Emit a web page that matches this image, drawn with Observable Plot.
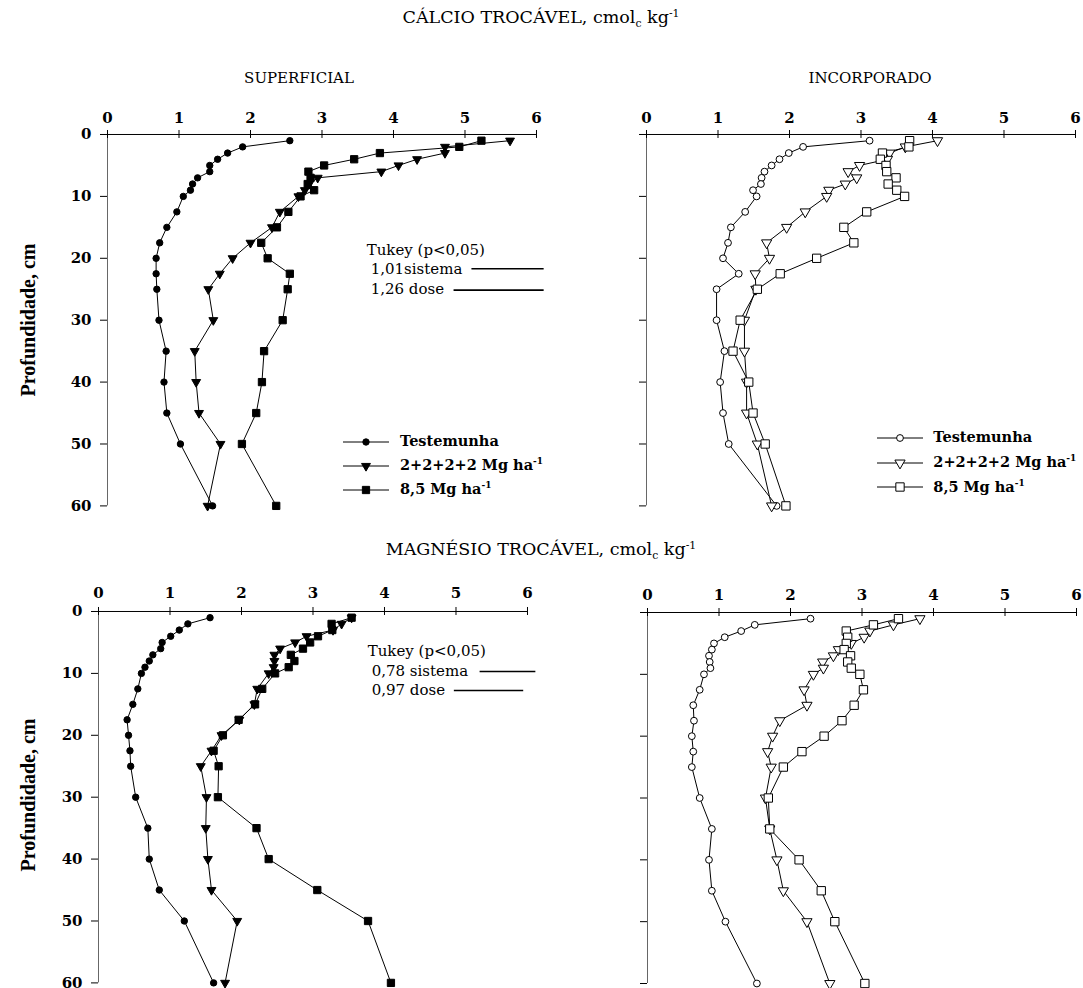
<!DOCTYPE html>
<html>
<head>
<meta charset="utf-8">
<script src="https://cdn.jsdelivr.net/npm/d3@7"></script>
<script src="https://cdn.jsdelivr.net/npm/@observablehq/plot@0.6"></script>
<style>
  body { margin: 0; background: #fff; }
  #fig { position: relative; width: 1083px; height: 988px; overflow: hidden; background: #fff;
         font-family: "DejaVu Serif", serif; color: #000; }
  .abs { position: absolute; white-space: nowrap; line-height: 1; }
  .ctr { transform: translate(-50%, -50%); }
  .vmid { transform: translateY(-50%); }
  .sub { font-size: 0.62em; vertical-align: -0.35em; line-height: 0; }
  .sup { font-size: 0.62em; vertical-align: 0.6em; line-height: 0; }
  .ylab { font-family: "Liberation Serif", serif; font-weight: bold; font-size: 20px;
          transform: translate(-50%, -50%) rotate(-90deg); }
  .leg { font-weight: bold; font-size: 14.5px; }
  .tk { font-size: 15px; }
</style>
</head>
<body>
<div id="fig"></div>
<script>
// Sampling depths (cm) shared by every profile
const depths = [1, 2, 3, 4, 5, 6, 7, 8, 9, 10, 12.5, 15, 17.5, 20, 22.5, 25, 30, 35, 40, 45, 50, 60];
const treatments = ["Testemunha", "2+2+2+2 Mg ha", "8,5 Mg ha"];
const xTicks = [0, 1, 2, 3, 4, 5, 6];
const yTicks = [0, 10, 20, 30, 40, 50, 60];

// Cálcio trocável — superficial
const caSupTest = [2.55, 1.89, 1.68, 1.54, 1.43, 1.43, 1.26, 1.19, 1.16, 1.06, 0.97, 0.83, 0.73, 0.68, 0.68, 0.69, 0.72, 0.82, 0.79, 0.83, 1.02, 1.47];
const caSupParc = [5.63, 4.72, 4.72, 4.33, 4.07, 3.83, 2.94, 2.82, 2.76, 2.67, 2.41, 2.30, 2.00, 1.75, 1.57, 1.41, 1.48, 1.22, 1.24, 1.28, 1.58, 1.40];
const caSupDose = [5.23, 4.92, 3.81, 3.45, 3.03, 2.81, 2.84, 2.80, 2.89, 2.70, 2.53, 2.37, 2.15, 2.24, 2.55, 2.52, 2.45, 2.19, 2.16, 2.08, 1.88, 2.36];

// Cálcio trocável — incorporado
const caIncTest = [3.12, 2.19, 1.99, 1.86, 1.75, 1.65, 1.61, 1.60, 1.49, 1.54, 1.38, 1.18, 1.14, 1.07, 1.29, 0.98, 0.98, 1.09, 1.03, 1.07, 1.15, 1.82];
const caIncParc = [4.07, 3.62, 3.40, 3.37, 2.98, 2.82, 2.94, 2.78, 2.55, 2.52, 2.22, 1.96, 1.68, 1.72, 1.52, 1.53, 1.37, 1.37, 1.40, 1.40, 1.55, 1.75];
const caIncDose = [3.68, 3.67, 3.30, 3.27, 3.35, 3.36, 3.49, 3.38, 3.50, 3.61, 3.08, 2.76, 2.90, 2.38, 1.87, 1.55, 1.31, 1.21, 1.43, 1.49, 1.66, 1.95];

// Magnésio trocável — superficial
const mgSupTest = [1.56, 1.25, 1.13, 1.01, 0.89, 0.87, 0.76, 0.71, 0.65, 0.60, 0.55, 0.48, 0.40, 0.42, 0.44, 0.45, 0.52, 0.69, 0.71, 0.85, 1.20, 1.61];
const mgSupParc = [3.54, 3.40, 3.28, 2.91, 2.75, 2.54, 2.46, 2.46, 2.45, 2.38, 2.22, 2.18, 1.97, 1.72, 1.58, 1.43, 1.51, 1.50, 1.53, 1.58, 1.94, 1.77];
const mgSupDose = [3.54, 3.26, 3.27, 3.07, 2.96, 2.86, 2.69, 2.74, 2.66, 2.47, 2.29, 2.19, 1.96, 1.74, 1.61, 1.68, 1.67, 2.21, 2.38, 3.06, 3.77, 4.09];

// Magnésio trocável — incorporado
const mgIncTest = [2.28, 1.50, 1.31, 1.08, 0.93, 0.90, 0.86, 0.87, 0.88, 0.79, 0.73, 0.64, 0.65, 0.62, 0.64, 0.62, 0.73, 0.90, 0.86, 0.90, 1.09, 1.53];
const mgIncParc = [3.81, 3.44, 3.11, 3.03, 2.85, 2.67, 2.60, 2.45, 2.46, 2.32, 2.19, 2.23, 1.85, 1.75, 1.68, 1.73, 1.65, 1.71, 1.81, 1.90, 2.23, 2.55];
const mgIncDose = [3.51, 3.16, 2.78, 2.80, 2.78, 2.75, 2.84, 2.80, 2.85, 2.97, 3.02, 2.89, 2.72, 2.47, 2.16, 1.90, 1.69, 1.71, 2.12, 2.43, 2.62, 3.04];

// Tukey (p<0,05) minimum significant differences
const tukeyCa = [{value: 1.01, name: "sistema", sep: ""}, {value: 1.26, name: "dose", sep: " "}];
const tukeyMg = [{value: 0.78, name: "sistema", sep: " "}, {value: 0.97, name: "dose", sep: " "}];

// ---- styling / layout ----
const markers = {
  filled: [
    {symbol: "circle",   r: 3.2, fill: "#000", rotate: 0},
    {symbol: "triangle", r: 3.3, fill: "#000", rotate: 180},
    {symbol: "square",   r: 4.1, fill: "#000", rotate: 0}
  ],
  open: [
    {symbol: "circle",   r: 3.4, fill: "#fff", rotate: 0},
    {symbol: "triangle", r: 3.8, fill: "#fff", rotate: 180},
    {symbol: "square",   r: 4.7, fill: "#fff", rotate: 0}
  ]
};
const PLOT_W = 429;
const M = {l: 100, r: 60, t: 44, b: 10};
const fig = document.getElementById("fig");
const fmt = v => v.toFixed(2).replace(".", ",");

function addHTML(cls, html, left, top) {
  const d = document.createElement("div");
  d.className = "abs " + cls;
  d.innerHTML = html;
  d.style.left = left + "px";
  d.style.top = top + "px";
  fig.append(d);
  return d;
}

function drawPanel({series, style, x0, y0, plotH, yLabels, xLabelPad, tukey, tukeyLayout}) {
  const rows = series.flatMap((vals, k) => vals.map((v, i) => ({k, depth: depths[i], value: v})));
  const marks = [
    Plot.ruleX([0], {stroke: "#666", strokeWidth: 1}),
    Plot.ruleY([0], {stroke: "#000", strokeWidth: 1}),
    Plot.ruleX(xTicks, {x: d => d, y1: 0, y2: 0, insetTop: -4, insetBottom: -4, stroke: "#000"}),
    Plot.axisX({anchor: "top", ticks: xTicks, tickSize: 0, tickPadding: xLabelPad, fontSize: 15,
                fontWeight: "bold", label: null, tickFormat: d => String(d)}),
    Plot.axisY({anchor: "left", ticks: yTicks, tickSize: 7, tickPadding: 9, fontSize: 15, fontWeight: "bold",
                label: null, stroke: "#000", tickFormat: yLabels ? d => String(d) : () => ""}),
    Plot.line(rows, {x: "value", y: "depth", z: "k", stroke: "#000", strokeWidth: 1})
  ];
  markers[style].forEach((m, k) => {
    marks.push(Plot.dot(rows.filter(d => d.k === k), {
      x: "value", y: "depth", symbol: m.symbol, r: m.r, rotate: m.rotate,
      fill: m.fill, stroke: "#000", strokeWidth: 1
    }));
  });
  if (tukey) {
    const tk = tukey.map((d, i) => ({...d, ...tukeyLayout.rows[i]}));
    marks.push(Plot.link(tk, {x1: d => d.end - d.value, x2: "end", y1: "depth", y2: "depth",
                              stroke: "#000", strokeWidth: 1.6}));
  }
  const chart = Plot.plot({
    width: M.l + PLOT_W + M.r, height: M.t + plotH + M.b,
    marginLeft: M.l, marginRight: M.r, marginTop: M.t, marginBottom: M.b,
    x: {domain: [0, 6]},
    y: {domain: [0, 60], reverse: true},
    style: {background: "none", overflow: "visible", fontFamily: '"DejaVu Serif", serif', maxWidth: "none"},
    marks
  });
  chart.style.position = "absolute";
  chart.style.left = (x0 - M.l) + "px";
  chart.style.top = (y0 - M.t) + "px";
  fig.append(chart);

  if (tukey) {
    const L = tukeyLayout;
    addHTML("tk vmid", "Tukey (p&lt;0,05)", L.textX - 4, L.headY);
    tukey.forEach((d, i) => addHTML("tk vmid", fmt(d.value) + d.sep + d.name, L.textX, L.textY[i]));
  }
  return chart;
}

function legendSymbol(m) {
  const size = Math.PI * m.r * m.r;
  const type = m.symbol === "circle" ? d3.symbolCircle : m.symbol === "square" ? d3.symbolSquare : d3.symbolTriangle;
  const path = d3.symbol(type, size)();
  return `<svg width="46" height="14" style="overflow:visible;vertical-align:middle">
    <line x1="0" x2="46" y1="7" y2="7" stroke="#000" stroke-width="1"/>
    <path d="${path}" transform="translate(23,7) rotate(${m.rotate})" fill="${m.fill}" stroke="#000" stroke-width="1"/></svg>`;
}

function drawLegend(style, lineX, textX, rowsY) {
  markers[style].forEach((m, k) => {
    addHTML("vmid", legendSymbol(m), lineX, rowsY[k]);
    const sup = k > 0 ? '<span class="sup">-1</span>' : "";
    addHTML("leg vmid", treatments[k] + sup, textX, rowsY[k]);
  });
}

// ---- titles ----
addHTML("ctr", 'CÁLCIO TROCÁVEL, cmol<span class="sub">c</span> kg<span class="sup">-1</span>', 541, 18).style.fontSize = "17.5px";
addHTML("ctr", "SUPERFICIAL", 299, 78).style.fontSize = "15px";
addHTML("ctr", "INCORPORADO", 870, 78).style.fontSize = "15px";
addHTML("ctr", 'MAGNÉSIO TROCÁVEL, cmol<span class="sub">c</span> kg<span class="sup">-1</span>', 541, 550).style.fontSize = "17.5px";
addHTML("ylab", "Profundidade, cm", 28, 320);
addHTML("ylab", "Profundidade, cm", 28, 795);

// ---- panels ----
drawPanel({series: [caSupTest, caSupParc, caSupDose], style: "filled", x0: 106.7, y0: 134.3, plotH: 371.4,
           yLabels: true, xLabelPad: 11, tukey: tukeyCa,
           tukeyLayout: {rows: [{end: 6.1, depth: 21.7}, {end: 6.1, depth: 25.15}], textX: 370.7, headY: 249.7, textY: [269, 289.3]}});
drawPanel({series: [caIncTest, caIncParc, caIncDose], style: "open", x0: 645.7, y0: 134.3, plotH: 371.4,
           yLabels: false, xLabelPad: 11});
drawPanel({series: [mgSupTest, mgSupParc, mgSupDose], style: "filled", x0: 98.3, y0: 611.3, plotH: 371.4,
           yLabels: true, xLabelPad: 13, tukey: tukeyMg,
           tukeyLayout: {rows: [{end: 6.11, depth: 9.7}, {end: 5.94, depth: 12.76}], textX: 371.7, headY: 651, textY: [671.3, 690.3]}});
drawPanel({series: [mgIncTest, mgIncParc, mgIncDose], style: "open", x0: 646.7, y0: 611.7, plotH: 371,
           yLabels: false, xLabelPad: 13});

// ---- legends ----
drawLegend("filled", 343, 400, [441, 465, 489]);
drawLegend("open", 876.7, 933.3, [437.3, 462.3, 486.7]);
</script>
</body>
</html>
